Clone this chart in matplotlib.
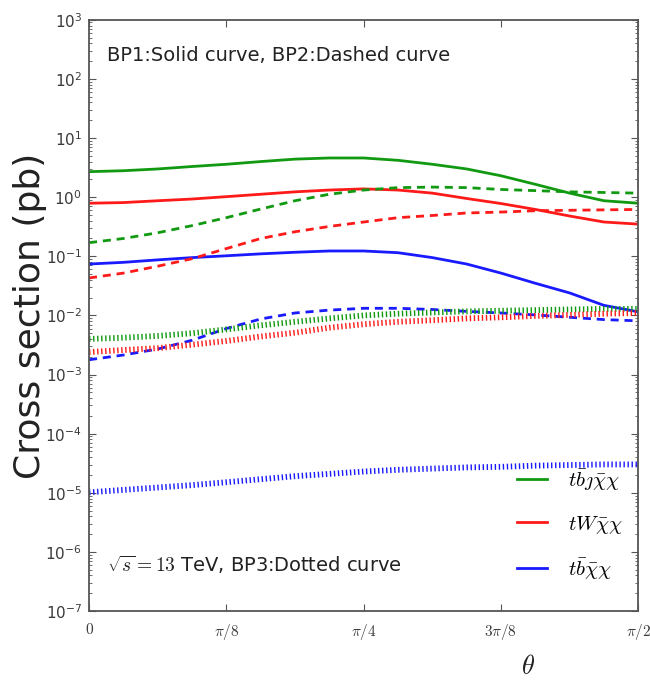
"""
Cross sections of the mono-top channels versus the mixing angle theta,
log scale, three benchmark points (solid / dashed / dotted).
"""

import numpy as np
import matplotlib
matplotlib.use('Agg')
import matplotlib.pyplot as plt
from matplotlib.font_manager import FontProperties
from matplotlib.ticker import LogLocator, NullLocator

GREEN = '#119a11'
RED = '#ff1a1a'
BLUE = '#1a1aff'
TEXT = '#222222'
TICK_TEXT = '#3a3a3a'
SPINE = '#555555'

matplotlib.rcParams.update({
    'font.family': 'DejaVu Sans',
    'xtick.direction': 'in',
    'ytick.direction': 'in',
    'xtick.top': True,
    'ytick.right': True,
    'xtick.major.size': 5,
    'ytick.major.size': 5,
    'ytick.minor.size': 2.5,
    'xtick.color': SPINE,
    'ytick.color': SPINE,
})

# theta grid in steps of pi/32
theta = np.pi / 32 * np.arange(17)

# BP1 (solid)
bp1_tbj = [2.7, 2.8, 3.0, 3.3, 3.6, 4.0, 4.4, 4.6, 4.6, 4.2, 3.6, 3.0, 2.3, 1.65, 1.17, 0.87, 0.79]
bp1_tw = [0.79, 0.81, 0.87, 0.93, 1.02, 1.12, 1.23, 1.32, 1.38, 1.32, 1.17, 0.95, 0.78, 0.62, 0.48, 0.38, 0.35]
bp1_tb = [0.074, 0.079, 0.087, 0.095, 0.102, 0.110, 0.117, 0.123, 0.123, 0.115, 0.095, 0.074, 0.052,
          0.035, 0.024, 0.0148, 0.0115]

# BP2 (dashed)
bp2_tbj = [0.17, 0.20, 0.25, 0.33, 0.45, 0.63, 0.87, 1.12, 1.32, 1.45, 1.48, 1.45, 1.35, 1.29, 1.23, 1.20, 1.17]
bp2_tw = [0.043, 0.052, 0.068, 0.091, 0.135, 0.20, 0.26, 0.32, 0.38, 0.45, 0.49, 0.54, 0.56, 0.59, 0.60, 0.61, 0.62]
bp2_tb = [0.00178, 0.00214, 0.0027, 0.0038, 0.0060, 0.0087, 0.0110, 0.0123, 0.0132, 0.0132, 0.0126, 0.0117,
          0.0110, 0.0102, 0.0093, 0.0085, 0.0081]

# BP3 (dotted)
bp3_tbj = [0.0040, 0.0042, 0.0045, 0.0050, 0.0058, 0.0068, 0.0078, 0.0089, 0.0100, 0.0107, 0.0112, 0.0117,
           0.0120, 0.0123, 0.0126, 0.0129, 0.0129]
bp3_tw = [0.0024, 0.0026, 0.0028, 0.0032, 0.0037, 0.0044, 0.0051, 0.0062, 0.0071, 0.0078, 0.0083, 0.0089,
          0.0093, 0.0098, 0.0102, 0.0107, 0.0110]
bp3_tb = [1.02e-5, 1.12e-5, 1.23e-5, 1.35e-5, 1.51e-5, 1.70e-5, 1.91e-5, 2.09e-5, 2.29e-5, 2.45e-5, 2.57e-5,
          2.69e-5, 2.75e-5, 2.88e-5, 2.95e-5, 3.02e-5, 3.02e-5]

channel_labels = [r'$t\bar{b}\jmath\bar{\chi}\chi$', r'$tW\bar{\chi}\chi$', r'$t\bar{b}\bar{\chi}\chi$']
channel_colors = [GREEN, RED, BLUE]

xtick_pos = [0, np.pi / 8, np.pi / 4, 3 * np.pi / 8, np.pi / 2]
xtick_labels = ['$0$', r'$\pi/8$', r'$\pi/4$', r'$3\pi/8$', r'$\pi/2$']

fig = plt.figure(figsize=(6.5, 6.82), dpi=100)
ax = fig.add_axes([0.137, 0.104, 0.845, 0.867])

solid_kw = dict(lw=2.0)
dashed_kw = dict(lw=2.0, dashes=(2.9, 2.1))
dotted_kw = dict(lw=4.2, dashes=(0.24, 0.45), dash_capstyle='butt')

for vals, color in zip([bp1_tbj, bp1_tw, bp1_tb], channel_colors):
    ax.plot(theta, vals, color=color, **solid_kw)
for vals, color in zip([bp2_tbj, bp2_tw, bp2_tb], channel_colors):
    ax.plot(theta, vals, color=color, **dashed_kw)
for vals, color in zip([bp3_tbj, bp3_tw, bp3_tb], channel_colors):
    ax.plot(theta, vals, color=color, **dotted_kw)

ax.set_yscale('log')
ax.set_ylim(1e-7, 1e3)
ax.set_xlim(0, np.pi / 2)
ax.yaxis.set_major_locator(LogLocator(base=10, numticks=20))
ax.yaxis.set_minor_locator(LogLocator(base=10, subs=np.arange(2, 10), numticks=20))
ax.xaxis.set_minor_locator(NullLocator())

ax.set_xticks(xtick_pos)
ax.set_xticklabels(xtick_labels, math_fontfamily='cm', fontsize=11, color=TICK_TEXT)
ax.tick_params(axis='x', pad=8)
ax.tick_params(axis='y', labelsize=11, labelcolor=TICK_TEXT, pad=5)

for sp in ax.spines.values():
    sp.set_color(SPINE)
    sp.set_linewidth(1.3)

ax.set_ylabel('Cross section (pb)', fontsize=26, color=TEXT, va='center')
ax.yaxis.set_label_coords(-0.107, 0.5)
ax.set_xlabel(r'$\theta$', fontsize=19, math_fontfamily='cm', color=TEXT, va='center')
ax.xaxis.set_label_coords(0.80, -0.095)

ax.text(0.033, 0.939, 'BP1:Solid curve, BP2:Dashed curve', transform=ax.transAxes,
        fontsize=14, color=TEXT, va='center', ha='left')
ax.text(0.033, 0.078, r'$\sqrt{s} = 13$ TeV, BP3:Dotted curve', transform=ax.transAxes,
        fontsize=14, color=TEXT, va='center', ha='left', math_fontfamily='cm')

# legend shows the channel colours only
handles = [plt.Line2D([], [], color=c, lw=2.0) for c in channel_colors]
ax.legend(handles, channel_labels, loc='lower right', frameon=False,
          prop=FontProperties(size=15, math_fontfamily='cm'),
          handlelength=1.45, handletextpad=1.0, labelspacing=1.0,
          bbox_to_anchor=(1.005, 0.018))

fig.savefig('out.png', dpi=100, facecolor='white')
